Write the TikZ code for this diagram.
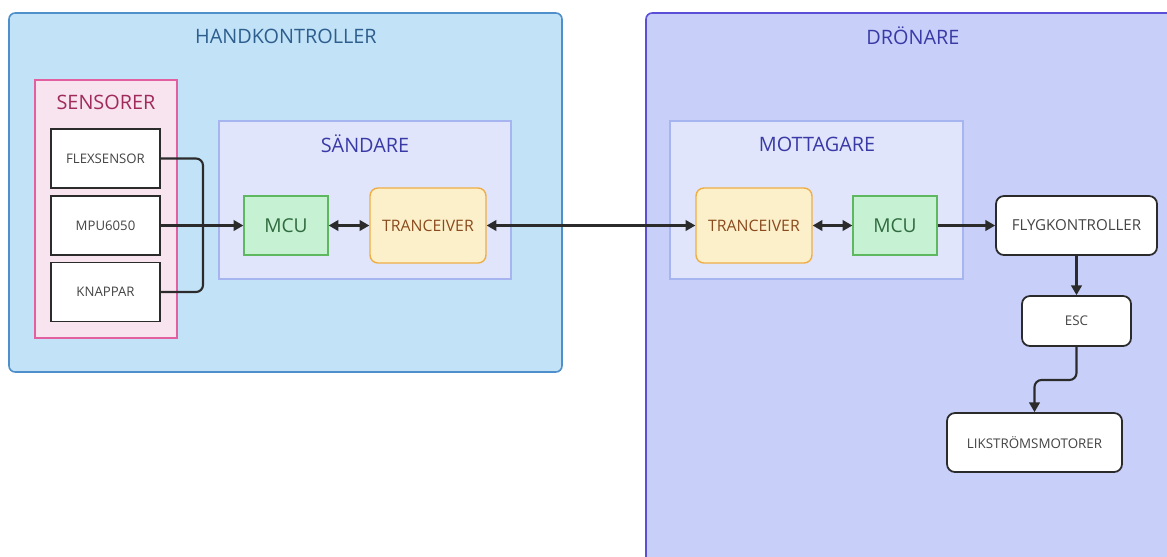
\documentclass[tikz,border=0pt]{standalone}
\usepackage{fontspec}
\setmainfont{Open Sans}
\usetikzlibrary{
    positioning,
    arrows.meta
    }

\definecolor{handfill}{HTML}{C2E3F7}
\definecolor{handline}{HTML}{4F8FCB}
\definecolor{handtext}{HTML}{2E5E8E}
\definecolor{dronfill}{HTML}{C8D0FA}
\definecolor{dronline}{HTML}{5A4FD6}
\definecolor{grouptext}{HTML}{3A3AA6}
\definecolor{subfill}{HTML}{E0E5FB}
\definecolor{subline}{HTML}{A6B4F0}
\definecolor{sensfill}{HTML}{F7E4EF}
\definecolor{sensline}{HTML}{E25FA0}
\definecolor{senstext}{HTML}{A02A5C}
\definecolor{mcufill}{HTML}{C6F1D2}
\definecolor{mculine}{HTML}{5DB860}
\definecolor{mcutext}{HTML}{2F6B3F}
\definecolor{transfill}{HTML}{FCF0CA}
\definecolor{transline}{HTML}{EFAE45}
\definecolor{transtext}{HTML}{8A4A1E}
\definecolor{boxtext}{HTML}{444444}
\definecolor{boxline}{HTML}{2B2B2B}

\begin{document}
\begin{tikzpicture}[x=0.02cm, y=-0.02cm]
\tikzset{title/.style =
        {
            font=\fontsize{11.3}{13}\selectfont,
            inner sep=0pt
        }
}

\tikzset{subgroup/.style =
        {
            line width=0.6pt,
            draw=subline,
            fill=subfill
        }
}

\tikzset{part/.style =
        {
            rectangle,
            line width=1pt,
            draw=boxline,
            fill=white,
            text=boxtext,
            font=\fontsize{7.5}{9}\selectfont,
            minimum width=2.18cm,
            minimum height=1.18cm,
            inner sep=0pt
        }
}

\tikzset{unit/.style =
        {
            part,
            rounded corners=4.5pt,
            font=\fontsize{7.6}{9}\selectfont
        }
}

\tikzset{mcu/.style =
        {
            part,
            line width=0.8pt,
            draw=mculine,
            fill=mcufill,
            text=mcutext,
            font=\fontsize{10.9}{13}\selectfont,
            minimum width=1.68cm
        }
}

\tikzset{trans/.style =
        {
            part,
            rounded corners=4.5pt,
            line width=0.8pt,
            draw=transline,
            fill=transfill,
            text=transtext,
            font=\fontsize{9}{11}\selectfont,
            minimum width=2.32cm,
            minimum height=1.5cm
        }
}

\tikzset{wire/.style = {
            line width=1.2pt,
            draw=boxline
        }
}

\tikzset{arrow/.style = {
            wire,
            -{Triangle[length=5.5pt, width=6pt]}
        }
}

\tikzset{both/.style = {
            wire,
            {Triangle[length=5.5pt, width=6pt]}-{Triangle[length=5.5pt, width=6pt]}
        }
}
    \path[use as bounding box, clip] (0,0) rectangle (1167,556);

    % outer groups
    \draw[line width=0.9pt, draw=handline, fill=handfill, rounded corners=3.5pt] (9,13) rectangle (562,372);
    \draw[line width=0.9pt, draw=dronline, fill=dronfill, rounded corners=3.5pt] (646,13) rectangle (1190,590);
    \node[title, text=handtext] (hand) at (286,36) {HANDKONTROLLER};
    \node[title, text=grouptext] (dron) at (913,36) {DRÖNARE};

    % inner groups
    \draw[line width=0.9pt, draw=sensline, fill=sensfill] (35,80) rectangle (177,338);
    \draw[subgroup] (219,121) rectangle (511,279);
    \draw[subgroup] (670,121) rectangle (963,279);
    \node[title, text=senstext] (sens) at (106,102) {SENSORER};
    \node[title, text=grouptext] (sand) at (365,144) {SÄNDARE};
    \node[title, text=grouptext] (mott) at (817,144) {MOTTAGARE};

    \foreach \name / \y / \txt in
        {flex/158.5/FLEXSENSOR,
            mpu/225.5/MPU6050,
            knap/292/KNAPPAR}
    \node[part] (\name) at (105.5,\y) {\txt};

    \node[mcu] (mcuL) at (286,225.5) {MCU};
    \node[trans] (transL) at (428,225.5) {TRANCEIVER};
    \node[trans] (transR) at (754,225.5) {TRANCEIVER};
    \node[mcu] (mcuR) at (895,225.5) {MCU};

    \node[unit, minimum width=3.22cm, font=\fontsize{8.6}{10}\selectfont] (flyg) at (1076.5,225.5) {FLYGKONTROLLER};
    \node[unit, minimum height=1cm] (esc) at (1076.5,321) {ESC};
    \node[unit, minimum width=3.5cm] (motor) at (1034.5,442.5) {LIKSTRÖMSMOTORER};

    \coordinate (join) at (203,225.5);
    \coordinate (bend) at (1076.5,380);

    \draw[wire, rounded corners=4pt] (flex.east) -| (join);
    \draw[wire, rounded corners=4pt] (knap.east) -| (join);
    \draw[arrow] (mpu.east) -- (mcuL.west);
    \draw[both] (mcuL) -- (transL);
    \draw[both] (transL) -- (transR);
    \draw[both] (transR) -- (mcuR);
    \draw[arrow] (mcuR) -- (flyg);
    \draw[arrow] (flyg) -- (esc);
    \draw[arrow, rounded corners=4pt] (esc.south) -- (bend) -| (motor.north);

\end{tikzpicture}
\end{document}
